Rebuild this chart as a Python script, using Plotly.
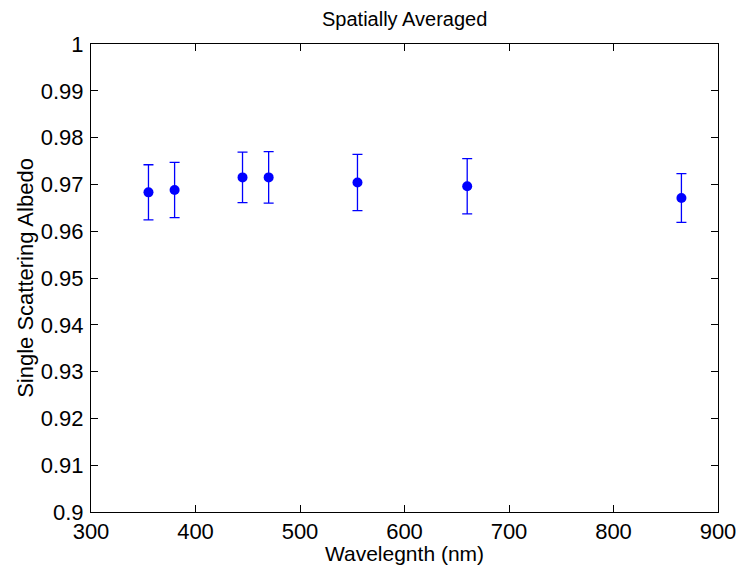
import plotly.graph_objects as go

wavelength = [355, 380, 445, 470, 555, 660, 865]
albedo = [0.9683, 0.9688, 0.9715, 0.9715, 0.9704, 0.9696, 0.9671]
albedo_err = [0.0059, 0.0059, 0.0054, 0.0055, 0.0060, 0.0059, 0.0052]

x_ticks = [300, 400, 500, 600, 700, 800, 900]
y_ticks = [0.9, 0.91, 0.92, 0.93, 0.94, 0.95, 0.96, 0.97, 0.98, 0.99, 1.0]
y_ticklabels = ["0.9", "0.91", "0.92", "0.93", "0.94", "0.95", "0.96", "0.97", "0.98", "0.99", "1"]

FONT = "Liberation Sans, Arial, Helvetica, sans-serif"

fig = go.Figure()
fig.add_trace(go.Scatter(
    x=wavelength, y=albedo, mode="markers",
    marker=dict(color="#0000ff", size=10, symbol="circle"),
    error_y=dict(type="data", array=albedo_err, visible=True,
                 color="#0000ff", thickness=1.3, width=5),
    showlegend=False,
))

axis_common = dict(
    showline=True, linecolor="black", linewidth=1, mirror="allticks",
    ticks="inside", ticklen=7, tickcolor="black", tickwidth=1,
    showgrid=False, zeroline=False, automargin=False,
    tickfont=dict(family=FONT, size=22, color="black"),
)

fig.update_layout(
    width=739, height=565,
    margin=dict(l=91, r=21, t=44, b=53),
    plot_bgcolor="white", paper_bgcolor="white",
    font=dict(family=FONT, color="black"),
    xaxis=dict(range=[300, 900], tickvals=x_ticks, ticktext=[str(v) for v in x_ticks],
               title=dict(text="Wavelegnth (nm)", font=dict(family=FONT, size=21), standoff=4),
               ticklabelstandoff=0,
               **axis_common),
    yaxis=dict(range=[0.9, 1.0], tickvals=y_ticks, ticktext=y_ticklabels,
               title=dict(text="Single Scattering Albedo", font=dict(family=FONT, size=22), standoff=1),
               ticklabelstandoff=2,
               **axis_common),
    annotations=[dict(text="Spatially Averaged", x=0.5, y=1, xref="paper", yref="paper",
                      xanchor="center", yanchor="bottom", yshift=12, showarrow=False,
                      font=dict(family=FONT, size=20, color="black"))],
)

fig.write_html("out.html")
